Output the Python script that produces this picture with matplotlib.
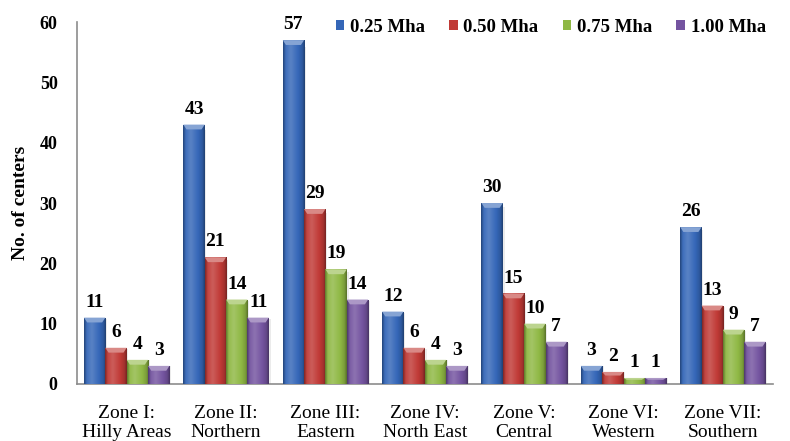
import numpy as np
import matplotlib.pyplot as plt
from matplotlib.patches import Polygon
from matplotlib.colors import LinearSegmentedColormap, to_rgb

# number of centers per zone for each capacity
zones = ["Zone I:\nHilly Areas", "Zone II:\nNorthern", "Zone III:\nEastern",
         "Zone IV:\nNorth East", "Zone V:\nCentral", "Zone VI:\nWestern",
         "Zone VII:\nSouthern"]
series = ["0.25 Mha", "0.50 Mha", "0.75 Mha", "1.00 Mha"]
v025 = [11, 43, 57, 12, 30, 3, 26]
v050 = [6, 21, 29, 6, 15, 2, 13]
v075 = [4, 14, 19, 4, 10, 1, 9]
v100 = [3, 11, 14, 3, 7, 1, 7]
values = [v025, v050, v075, v100]

colors = ["#3567b8", "#c03a36", "#8fb844", "#7454a0"]
y_ticks = [0, 10, 20, 30, 40, 50, 60]

serif = ["Liberation Serif", "DejaVu Serif"]


def shade(c, f):
    r, g, b = to_rgb(c)
    if f >= 0:
        return (r + (1 - r) * f, g + (1 - g) * f, b + (1 - b) * f)
    return (r * (1 + f), g * (1 + f), b * (1 + f))


fig = plt.figure(figsize=(7.9, 4.41), dpi=100)
ax = fig.add_axes([0.0975, 0.1293, 0.8805, 0.8207])

x = np.arange(len(zones))
w = 0.215
grad = np.linspace(0, 1, 64).reshape(1, -1)

for k, (vals, col) in enumerate(zip(values, colors)):
    cmap = LinearSegmentedColormap.from_list(
        "c%d" % k,
        [(0, shade(col, -0.35)), (0.12, shade(col, 0.05)), (0.35, shade(col, 0.18)),
         (0.7, col), (0.9, shade(col, -0.15)), (1, shade(col, -0.4))])
    bars = ax.bar(x + (k - 1.5) * w, vals, w, color=col, label=series[k],
                  edgecolor="none", zorder=2)
    for b, v in zip(bars, vals):
        x0, x1 = b.get_x(), b.get_x() + b.get_width()
        im = ax.imshow(grad, cmap=cmap, extent=[x0, x1, 0, v], aspect="auto",
                       zorder=3, interpolation="bicubic")
        im.set_clip_path(b)
        # bevelled top
        bev = min(0.8, v * 0.3)
        inset = b.get_width() * 0.15
        ax.add_patch(Polygon([[x0, v], [x1, v], [x1 - inset, v - bev], [x0 + inset, v - bev]],
                             closed=True, facecolor=shade(col, 0.4), edgecolor="none",
                             zorder=4))
        # soft right-hand shadow
        ax.add_patch(plt.Rectangle((x1, 0), b.get_width() * 0.08, v * 0.98,
                                   facecolor="#000000", alpha=0.08, edgecolor="none", zorder=1))
        ax.annotate(str(v), (b.get_x() + b.get_width() / 2, v), xytext=(0, 5),
                    textcoords="offset points", ha="center", va="bottom",
                    fontsize=14, fontweight="bold", family=serif, zorder=5)

ax.set_xlim(-0.5, len(zones) - 0.5)
ax.set_ylim(0, 60)
ax.set_yticks(y_ticks)
ax.set_xticks(x)
ax.set_xticklabels(zones, family=serif, fontsize=14, linespacing=1.2)
for t in ax.get_yticklabels():
    t.set_family(serif)
    t.set_fontweight("bold")
    t.set_fontsize(13)
ax.tick_params(axis="both", length=0)
ax.tick_params(axis="y", pad=14)
ax.tick_params(axis="x", pad=15)
ax.set_ylabel("No. of centers", family=serif, fontweight="bold", fontsize=14, labelpad=8)

for s in ["top", "right"]:
    ax.spines[s].set_visible(False)
for s in ["left", "bottom"]:
    ax.spines[s].set_color("#8c8c8c")
    ax.spines[s].set_linewidth(1.2)

leg = ax.legend(loc="center left", ncol=4, frameon=False, bbox_to_anchor=(0.372, 0.986),
                borderaxespad=0, borderpad=0,
                prop={"family": serif, "weight": "bold", "size": 13.5},
                handlelength=0.45, handleheight=0.45, handletextpad=0.3, columnspacing=1.3)

fig.savefig("out.png", dpi=100)
